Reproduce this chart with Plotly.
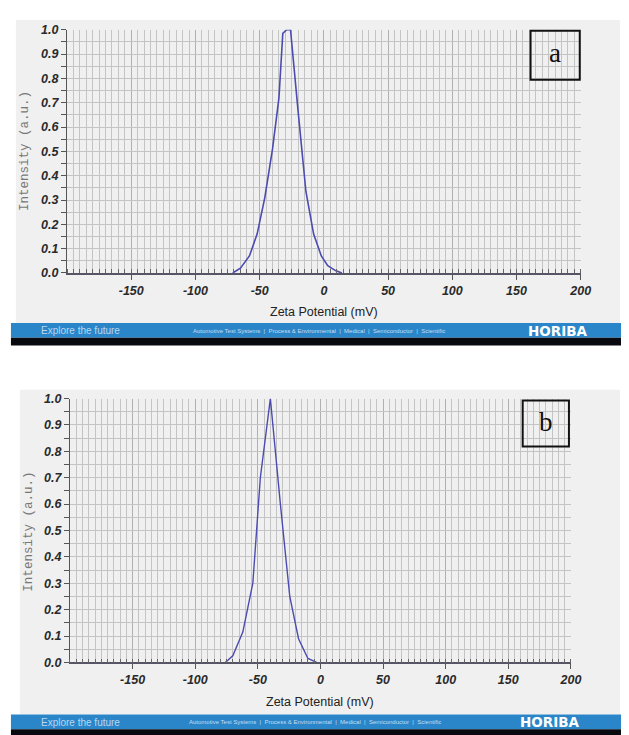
import plotly.graph_objects as go

# ---- data ----
zeta_a = [-71, -65, -58, -52, -46, -40, -35, -32, -29, -26, -20, -14, -8, -2, 3, 9, 14]
intensity_a = [0.0, 0.02, 0.07, 0.16, 0.31, 0.51, 0.72, 0.985, 1.0, 1.0, 0.66, 0.335, 0.16, 0.07, 0.03, 0.01, 0.0]

zeta_b = [-76, -70, -62, -54, -48, -40, -32, -24.5, -17.5, -10, -3]
intensity_b = [0.0, 0.025, 0.115, 0.30, 0.70, 1.0, 0.60, 0.25, 0.09, 0.015, 0.0]

x_tick_vals = [-150, -100, -50, 0, 50, 100, 150, 200]
x_tick_text = ["-150", "-100", "-50", "0", "50", "100", "150", "200"]
y_tick_vals = [0.0, 0.05, 0.1, 0.15, 0.2, 0.25, 0.3, 0.35, 0.4, 0.45, 0.5,
               0.55, 0.6, 0.65, 0.7, 0.75, 0.8, 0.85, 0.9, 0.95, 1.0]
y_tick_text = ["0.0", "", "0.1", "", "0.2", "", "0.3", "", "0.4", "", "0.5",
               "", "0.6", "", "0.7", "", "0.8", "", "0.9", "", "1.0"]

panel_labels = ["a", "b"]
x_title = "Zeta Potential (mV)"
y_title = "Intensity (a.u.)"
footer_left = "Explore the future"
footer_mid = "Automotive Test Systems  |  Process & Environmental  |  Medical  |  Semiconductor  |  Scientific"
footer_logo = "HORIBA"

# minor x graduation (axis graduation, not data)
x_minor_vals = list(range(-200, 201, 5))

W, H = 629, 735
def px(x):
    return x / W
def py(y):
    return 1 - y / H

LINE_COLOR = "#4b4bb0"
BG_GRAY = "#f0f0f0"
BLUE = "#2a86c8"
GRID = "#c4c4c4"

fig = go.Figure()
fig.add_trace(go.Scatter(x=zeta_a, y=intensity_a, mode="lines",
                         line=dict(color=LINE_COLOR, width=1.6), xaxis="x", yaxis="y", showlegend=False))
fig.add_trace(go.Scatter(x=zeta_b, y=intensity_b, mode="lines",
                         line=dict(color=LINE_COLOR, width=1.4), xaxis="x2", yaxis="y2", showlegend=False))

tickfont = dict(family="Liberation Sans, Arial", size=12.5, color="#2a2a2a", weight="bold", style="italic")

def xaxis_cfg(domain, anchor):
    return dict(domain=domain, anchor=anchor, range=[-200, 200], tickmode="array",
                tickvals=x_tick_vals, ticktext=x_tick_text, ticks="outside", ticklen=5,
                tickcolor="#555555", tickfont=tickfont, showline=True, linecolor="#555566",
                linewidth=1.5, showgrid=True, gridcolor="#b0b0b0", gridwidth=1, zeroline=False,
                minor=dict(tickmode="array", tickvals=x_minor_vals, ticks="inside", ticklen=4,
                           tickcolor="#666666", showgrid=True, gridcolor=GRID, gridwidth=1),
                fixedrange=True)

def yaxis_cfg(domain, anchor):
    return dict(domain=domain, anchor=anchor, range=[0, 1], tickmode="array",
                tickvals=y_tick_vals, ticktext=y_tick_text, ticks="outside", ticklen=5,
                tickcolor="#555555", tickfont=tickfont, showline=True, linecolor="#555555",
                linewidth=1.2, showgrid=True, gridcolor=GRID, gridwidth=1, zeroline=False,
                fixedrange=True)

fig.update_layout(
    width=W, height=H, autosize=False,
    margin=dict(l=0, r=0, t=0, b=0),
    paper_bgcolor="white", plot_bgcolor="#f9f9f9",
    xaxis=xaxis_cfg([px(60), px(582)], "y"),
    yaxis=yaxis_cfg([py(263), py(15)], "x"),
    xaxis2=xaxis_cfg([px(63), px(572)], "y2"),
    yaxis2=yaxis_cfg([py(660), py(391)], "x2"),
)

shapes = []
annotations = []

panels = [
    dict(bg=(8, 5, 622, 314), blue=(3, 314, 629, 329), black=(3, 329, 629, 337),
         box=(531, 16, 581, 66), xt=(321, 303), yt=(18, 139), foot_y=322,
         foot_left=74, foot_mid=316, foot_logo=558),
    dict(bg=(12, 382, 622, 713), blue=(3, 713, 629, 728), black=(3, 728, 629, 735),
         box=(523, 393, 570, 440), xt=(317, 700), yt=(21, 527), foot_y=721,
         foot_left=74, foot_mid=312, foot_logo=550),
]

for i, p in enumerate(panels):
    x0, y0, x1, y1 = p["bg"]
    shapes.append(dict(type="rect", xref="paper", yref="paper", x0=px(x0), x1=px(x1),
                       y0=py(y1), y1=py(y0), fillcolor=BG_GRAY, line=dict(width=0), layer="below"))
    x0, y0, x1, y1 = p["blue"]
    shapes.append(dict(type="rect", xref="paper", yref="paper", x0=px(x0), x1=px(x1),
                       y0=py(y1), y1=py(y0), fillcolor=BLUE, line=dict(width=0), layer="below"))
    x0, y0, x1, y1 = p["black"]
    shapes.append(dict(type="rect", xref="paper", yref="paper", x0=px(x0), x1=px(x1),
                       y0=py(y1), y1=py(y0), fillcolor="#080a10", line=dict(width=0), layer="below"))
    x0, y0, x1, y1 = p["box"]
    shapes.append(dict(type="rect", xref="paper", yref="paper", x0=px(x0), x1=px(x1),
                       y0=py(y1), y1=py(y0), fillcolor="rgba(0,0,0,0)",
                       line=dict(color="#111111", width=2), layer="above"))
    annotations.append(dict(text=panel_labels[i], xref="paper", yref="paper",
                            x=px((x0 + x1) / 2), y=py((y0 + y1) / 2 - 2), showarrow=False,
                            xanchor="center", yanchor="middle",
                            font=dict(family="Liberation Serif, Times New Roman", size=27, color="#111111")))
    annotations.append(dict(text=x_title, xref="paper", yref="paper", x=px(p["xt"][0]), y=py(p["xt"][1]),
                            showarrow=False, xanchor="center", yanchor="middle",
                            font=dict(family="Liberation Sans, Arial", size=12.5, color="#222222")))
    annotations.append(dict(text=y_title, xref="paper", yref="paper", x=px(p["yt"][0]), y=py(p["yt"][1]),
                            showarrow=False, xanchor="center", yanchor="middle", textangle=-90,
                            font=dict(family="Liberation Mono, Courier New", size=12.5, color="#777777")))
    annotations.append(dict(text=footer_left, xref="paper", yref="paper", x=px(p["foot_left"]), y=py(p["foot_y"]),
                            showarrow=False, xanchor="center", yanchor="middle",
                            font=dict(family="Liberation Sans, Arial", size=10, color="#b9d6ef")))
    annotations.append(dict(text=footer_mid, xref="paper", yref="paper", x=px(p["foot_mid"]), y=py(p["foot_y"]),
                            showarrow=False, xanchor="center", yanchor="middle",
                            font=dict(family="Liberation Sans, Arial", size=6, color="#c4def3")))
    annotations.append(dict(text=footer_logo, xref="paper", yref="paper", x=px(p["foot_logo"]), y=py(p["foot_y"]),
                            showarrow=False, xanchor="center", yanchor="middle",
                            font=dict(family="DejaVu Sans", size=13.5, color="white", weight="bold")))

fig.update_layout(shapes=shapes, annotations=annotations)

fig.write_html("out.html")
